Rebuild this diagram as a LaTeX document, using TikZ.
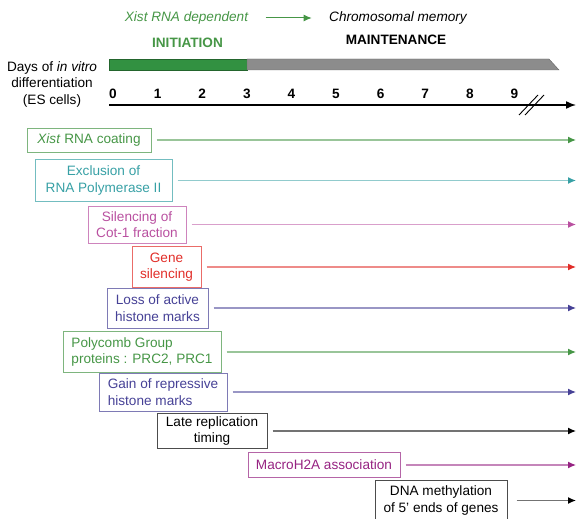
\documentclass[tikz,border=0pt]{standalone}
\usepackage{fontspec}
\setmainfont{Liberation Sans}
\usetikzlibrary{arrows.meta}
\definecolor{xgreen}{RGB}{70,150,70}
\definecolor{xteal}{RGB}{55,160,165}
\definecolor{xpink}{RGB}{185,80,160}
\definecolor{xred}{RGB}{225,45,40}
\definecolor{xblue}{RGB}{70,65,150}
\definecolor{xmag}{RGB}{150,35,130}
\definecolor{bargreen}{RGB}{50,145,65}
\definecolor{bargray}{RGB}{140,140,140}
\begin{document}
\begin{tikzpicture}[x=1pt,y=-1pt,>={Latex[length=8pt,width=7pt]},
  font=\fontsize{13.6}{16.5}\selectfont,
  box/.style={draw=#1!70, text=#1, line width=1pt, inner sep=2pt, align=center},
  tl/.style={draw=#1!55, line width=1.2pt, -{Latex[length=8pt,width=7pt,color=#1]}, shorten <=5pt}]
	\useasboundingbox (0,0) rectangle (576,519);
	\node[xgreen] (dep) at (186.5,18) {\itshape Xist RNA dependent};
	\node (mem) at (398,18) {\itshape Chromosomal memory};
	\draw[->, xgreen, line width=1pt, shorten <=14pt, shorten >=14pt] (dep) -- (mem);
	\node[xgreen, font=\fontsize{13.6}{16.5}\selectfont\bfseries] (init) at (187.5,43) {INITIATION};
	\node[font=\fontsize{13.6}{16.5}\selectfont\bfseries] (maint) at (396,40) {MAINTENANCE};
	\draw[bargreen!70!black, fill=bargreen] (109,59) rectangle (247,70);
	\draw[black!60, fill=bargray] (247,59) -- (549,59) -- (559,70) -- (247,70) -- cycle;
	\node[align=center] (days) at (52,84) {Days of \textit{in vitro}\\differentiation\\(ES cells)};
	\foreach \d in {0,...,9}
		\node[font=\fontsize{13.6}{16.5}\selectfont\bfseries] (d\d) at ({113+44.6*\d},94) {\d};
	\coordinate (ax0) at (109,105);
	\coordinate (axend) at (576,105);
	\draw[-{Latex[length=10pt,width=8pt]}, line width=1.5pt] (ax0) -- (axend);
	\draw[line width=0.9pt] (519,115) -- (538,95) (525,115) -- (544,95);
	\coordinate (tip) at (576,0);
	\node[box=xgreen, minimum width=124, minimum height=24] (xist) at (89,140) {\textit{Xist} RNA coating};
	\node[box=xteal, minimum width=137, minimum height=42] (excl) at (103.5,180.5) {Exclusion of\\RNA Polymerase II};
	\node[box=xpink, minimum width=98, minimum height=37] (cot) at (137,224.5) {Silencing of\\Cot-1 fraction};
	\node[box=xred, minimum width=69, minimum height=41] (gene) at (166.5,267) {Gene\\silencing};
	\node[box=xblue, minimum width=101, minimum height=40] (loss) at (157.5,308) {Loss of active\\histone marks};
	\node[box=xgreen, align=left, minimum width=158, minimum height=41] (pcg) at (142,352) {Polycomb Group\\proteins : PRC2, PRC1};
	\node[box=xblue, align=left, minimum width=128, minimum height=38] (gain) at (163,392) {Gain of repressive\\histone marks};
	\node[box=black, minimum width=110, minimum height=35] (late) at (212,431) {Late replication\\timing};
	\node[box=xmag, minimum width=152, minimum height=25] (macro) at (324,465) {MacroH2A association};
	\node[box=black, minimum width=132, minimum height=40] (dna) at (441,500.5) {DNA methylation\\of 5' ends of genes};
	\draw[tl=xgreen] (xist.east) -- (xist.east -| tip);
	\draw[tl=xteal] (excl.east) -- (excl.east -| tip);
	\draw[tl=xpink] (cot.east) -- (cot.east -| tip);
	\draw[tl=xred] (gene.east) -- (gene.east -| tip);
	\draw[tl=xblue] (loss.east) -- (loss.east -| tip);
	\draw[tl=xgreen] (pcg.east) -- (pcg.east -| tip);
	\draw[tl=xblue] (gain.east) -- (gain.east -| tip);
	\draw[tl=black] (late.east) -- (late.east -| tip);
	\draw[tl=xmag] (macro.east) -- (macro.east -| tip);
	\draw[tl=black, shorten <=9pt] (dna.east) -- (dna.east -| tip);
\end{tikzpicture}
\end{document}
